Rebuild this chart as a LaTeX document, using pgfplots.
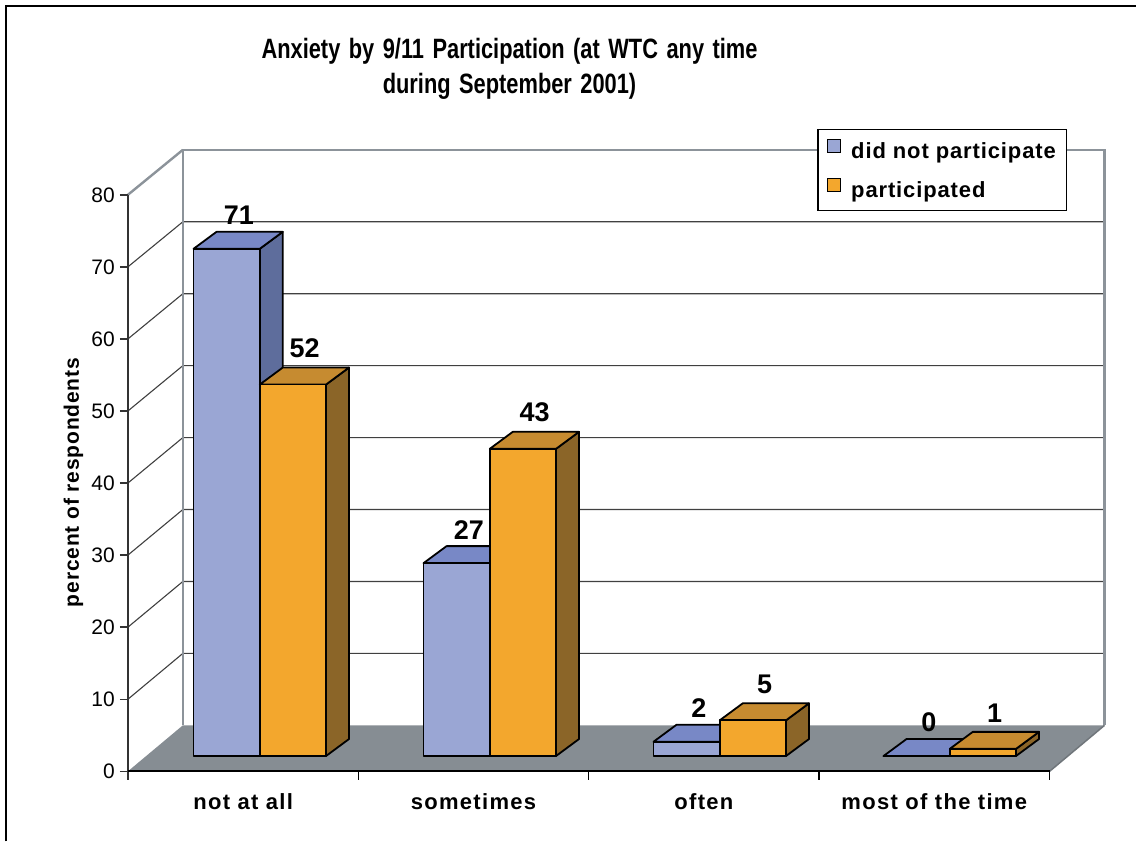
\documentclass[border=0pt]{standalone}
\usepackage{pgfplots}
\usepackage{pgfplotstable}
\pgfplotsset{compat=1.18}
\usepackage{fontspec}
\setmainfont{Liberation Sans}
\newfontfamily\spaced[LetterSpace=4]{Liberation Sans}
\newfontfamily\wide[LetterSpace=6]{Liberation Sans}
\newfontfamily\titlefont[FakeStretch=0.78, WordSpace=1.4]{Liberation Sans}

\definecolor{bluefront}{RGB}{154,166,212}
\definecolor{bluetop}{RGB}{120,136,198}
\definecolor{blueside}{RGB}{94,109,156}
\definecolor{orangefront}{RGB}{243,167,45}
\definecolor{orangetop}{RGB}{198,139,48}
\definecolor{orangeside}{RGB}{139,101,40}
\definecolor{floorgray}{RGB}{134,141,147}
\definecolor{wallgray}{RGB}{140,147,154}

% percent of respondents
\pgfplotstableread{
x dnp part
0 71  52
1 27  43
2 2   5
3 0   1
}\datatable

% bar width and depth, in axis units
\newcommand\bw{0.288}
\newcommand\ddx{0.1}
\newcommand\ddy{2.38}

\pgfplotsset{
  barface/.style={draw=black, line width=1.8pt, line join=round, forget plot},
  struct/.style={forget plot, mark=none},
}

% side and top face of one bar: left x, value, top colour, side colour
\newcommand\cubefaces[4]{%
  \pgfmathsetmacro\xa{#1}%
  \pgfmathsetmacro\xb{#1+\bw}%
  \pgfmathsetmacro\xc{#1+\ddx}%
  \pgfmathsetmacro\xd{#1+\bw+\ddx}%
  \pgfmathsetmacro\yt{#2+\ddy}%
  \edef\doplot{%
    \noexpand\addplot[barface, fill=#4] coordinates {(\xb,0) (\xd,\ddy) (\xd,\yt) (\xb,#2)} -- cycle;
    \noexpand\addplot[barface, fill=#3] coordinates {(\xa,#2) (\xc,\yt) (\xd,\yt) (\xb,#2)} -- cycle;
  }\doplot}

\begin{document}
\begin{tikzpicture}
\begin{axis}[
  scale only axis, width=1137pt, height=842pt,
  xmin=-1.1295, xmax=3.8098, ymin=-11.93, ymax=105.83,
  hide axis, clip=false, enlargelimits=false,
  /pgf/number format/assume math mode=true,
  legend style={at={(axis cs:2.4240,87.75)}, anchor=north west,
    draw=black, line width=1.3pt, fill=white,
    font=\fontsize{22}{26}\selectfont\spaced\bfseries,
    inner xsep=9pt, inner ysep=9pt, row sep=16pt, column sep=8pt},
  legend cell align=left,
  legend image code/.code={\draw[#1, draw=black, line width=1.3pt] (0pt,-1pt) rectangle (13pt,12pt);},
]

% background and outer frame
\addplot[struct, fill=white, draw=none] coordinates {(-1.1295,-11.93) (3.8098,-11.93) (3.8098,105.83) (-1.1295,105.83)} -- cycle;
\addplot[struct, black, line width=2pt] coordinates {(-1.1034,-11.93) (-1.1034,104.99) (3.8098,104.99)};

% gridlines: side wall and back wall
\addplot[struct, black!75, line width=1.1pt] coordinates {(-0.5734,7.947) (-0.3345,14.364) (3.6729,14.364)};
\addplot[struct, black!75, line width=1.1pt] coordinates {(-0.5734,18.035) (-0.3345,24.434) (3.6729,24.434)};
\addplot[struct, black!75, line width=1.1pt] coordinates {(-0.5734,28.122) (-0.3345,34.504) (3.6729,34.504)};
\addplot[struct, black!75, line width=1.1pt] coordinates {(-0.5734,38.210) (-0.3345,44.574) (3.6729,44.574)};
\addplot[struct, black!75, line width=1.1pt] coordinates {(-0.5734,48.297) (-0.3345,54.643) (3.6729,54.643)};
\addplot[struct, black!75, line width=1.1pt] coordinates {(-0.5734,58.384) (-0.3345,64.713) (3.6729,64.713)};
\addplot[struct, black!75, line width=1.1pt] coordinates {(-0.5734,68.472) (-0.3345,74.783) (3.6729,74.783)};

% wall edges
\addplot[struct, wallgray, line width=2.4pt] coordinates {(-0.3345,4.294) (-0.3345,84.853) (3.6729,84.853) (3.6729,4.294)};
\addplot[struct, wallgray, line width=2.4pt] coordinates {(-0.5734,78.559) (-0.3345,84.853)};

% floor
\addplot[struct, fill=floorgray, draw=none] coordinates {(-0.5734,-2.140) (3.4340,-2.140) (3.6729,4.294) (-0.3345,4.294)} -- cycle;
\addplot[struct, wallgray!80!black, line width=1.5pt] coordinates {(3.4340,-2.140) (3.6729,4.294)};

% value axis and category axis
\addplot[struct, black!80, line width=2pt] coordinates {(-0.5734,78.559) (-0.5734,-3.399)};
\addplot[struct, black, line width=2pt] coordinates {(-0.5734,-2.140) (3.4340,-2.140)};
\pgfplotsinvokeforeach{-2.140,7.947,18.035,28.122,38.210,48.297,58.384,68.472,78.559}{
  \addplot[struct, black!80, line width=1.5pt] coordinates {(-0.6082,#1) (-0.5734,#1)};
}
\pgfplotsinvokeforeach{0.4283,1.4301,2.4318,3.4335}{
  \addplot[struct, black, line width=1.5pt] coordinates {(#1,-2.140) (#1,-3.399)};
}

% did not participate
\pgfplotsinvokeforeach{0,1,2,3}{%
  \pgfplotstablegetelem{#1}{dnp}\of\datatable
  \let\val\pgfplotsretval
  \pgfmathsetmacro\xl{#1-\bw}%
  \cubefaces{\xl}{\val}{bluetop}{blueside}%
}
\addplot[ybar, bar width=\bw, bar shift=-0.144, fill=bluefront, draw=black,
  line width=1.8pt, line join=round, forget plot,
  nodes near coords,
  every node near coord/.append style={anchor=south, inner sep=0pt, xshift=-21pt, yshift=23pt,
    font=\fontsize{27}{30}\selectfont\bfseries, text=black}]
  table[x=x, y=dnp] {\datatable};

% participated
\pgfplotsinvokeforeach{0,1,2,3}{%
  \pgfplotstablegetelem{#1}{part}\of\datatable
  \let\val\pgfplotsretval
  \cubefaces{#1}{\val}{orangetop}{orangeside}%
}
\addplot[ybar, bar width=\bw, bar shift=0.144, fill=orangefront, draw=black,
  line width=1.8pt, line join=round, forget plot,
  nodes near coords,
  every node near coord/.append style={anchor=south, inner sep=0pt, xshift=45pt, yshift=26pt,
    font=\fontsize{27}{30}\selectfont\bfseries, text=black}]
  table[x=x, y=part] {\datatable};

\addlegendimage{fill=bluefront}
\addlegendentry{did not participate}
\addlegendimage{fill=orangefront}
\addlegendentry{participated}

% tick labels
\foreach \v/\yy in {0/-2.140,10/7.947,20/18.035,30/28.122,40/38.210,50/48.297,60/58.384,70/68.472,80/78.559}{
  \edef\tmp{\noexpand\node[anchor=east, inner sep=0pt, font=\noexpand\fontsize{21}{25}\noexpand\selectfont] at (axis cs:-0.6299,\yy) {\v};}\tmp
}
\foreach \c/\xx in {not at all/-0.0725, sometimes/0.9292, often/1.9310, most of the time/2.9327}{
  \edef\tmp{\noexpand\node[anchor=base, inner sep=0pt, font=\noexpand\fontsize{22}{26}\noexpand\selectfont\noexpand\wide\noexpand\bfseries] at (axis cs:\xx,-7.45) {\c};}\tmp
}

% titles
\node[anchor=base, inner sep=0pt, font=\fontsize{28}{32}\selectfont\titlefont\bfseries] at (axis cs:1.0860,97.68) {Anxiety by 9/11 Participation (at WTC any time};
\node[anchor=base, inner sep=0pt, font=\fontsize{28}{32}\selectfont\titlefont\bfseries] at (axis cs:1.0860,92.78) {during September 2001)};
\node[anchor=base, inner sep=0pt, rotate=90, font=\fontsize{21}{25}\selectfont\spaced\bfseries] at (axis cs:-0.7863,38.28) {percent of respondents};

\end{axis}
\end{tikzpicture}
\end{document}
